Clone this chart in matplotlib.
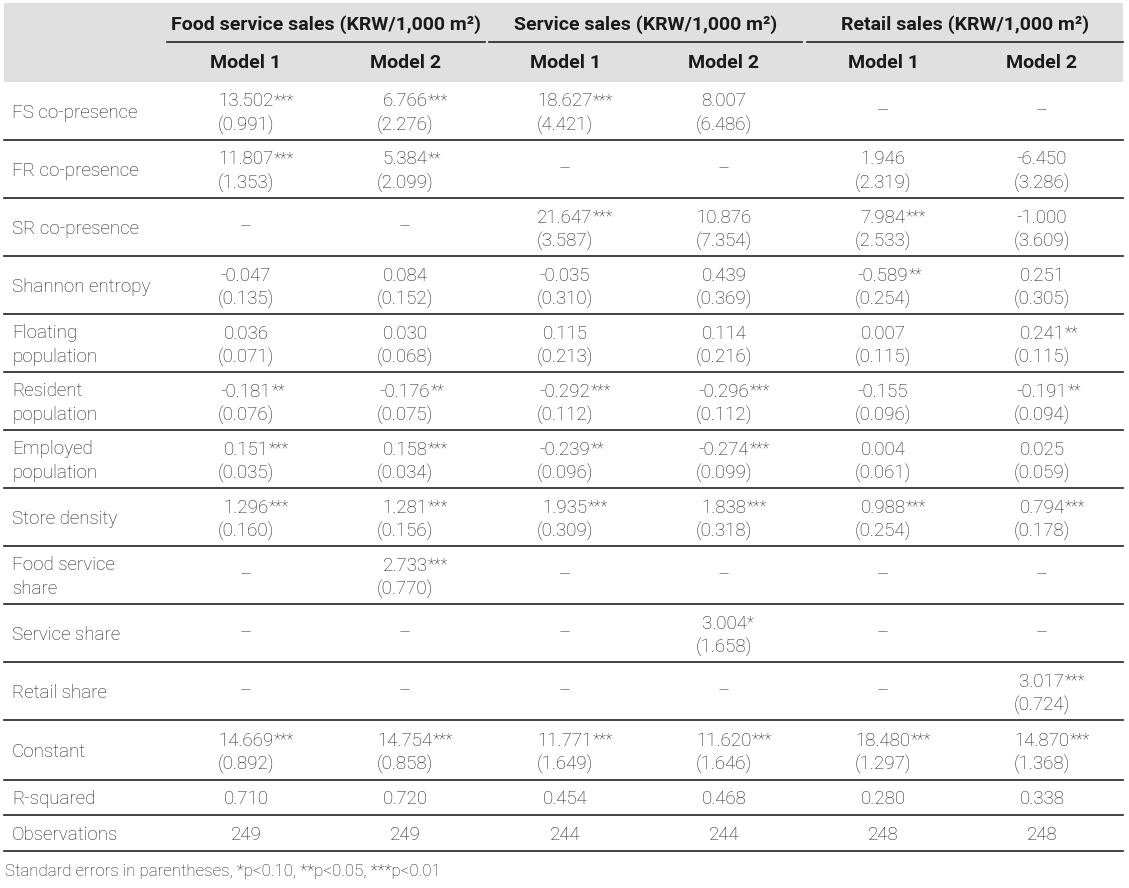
import matplotlib
matplotlib.use('Agg')
import matplotlib.pyplot as plt
from matplotlib.patches import Rectangle

plt.rcParams['font.family'] = ['Roboto', 'DejaVu Sans']

# table content
group_titles = ['Food service sales (KRW/1,000 m²)',
                'Service sales (KRW/1,000 m²)',
                'Retail sales (KRW/1,000 m²)']
model_labels = ['Model 1', 'Model 2', 'Model 1', 'Model 2', 'Model 1', 'Model 2']

row_labels = ['FS co-presence', 'FR co-presence', 'SR co-presence', 'Shannon entropy',
              'Floating\npopulation', 'Resident\npopulation', 'Employed\npopulation',
              'Store density', 'Food service\nshare', 'Service share', 'Retail share',
              'Constant']

coef = [
    [13.502, 6.766, 18.627, 8.007, None, None],
    [11.807, 5.384, None, None, 1.946, -6.450],
    [None, None, 21.647, 10.876, 7.984, -1.000],
    [-0.047, 0.084, -0.035, 0.439, -0.589, 0.251],
    [0.036, 0.030, 0.115, 0.114, 0.007, 0.241],
    [-0.181, -0.176, -0.292, -0.296, -0.155, -0.191],
    [0.151, 0.158, -0.239, -0.274, 0.004, 0.025],
    [1.296, 1.281, 1.935, 1.838, 0.988, 0.794],
    [None, 2.733, None, None, None, None],
    [None, None, None, 3.004, None, None],
    [None, None, None, None, None, 3.017],
    [14.669, 14.754, 11.771, 11.620, 18.480, 14.870],
]
se = [
    [0.991, 2.276, 4.421, 6.486, None, None],
    [1.353, 2.099, None, None, 2.319, 3.286],
    [None, None, 3.587, 7.354, 2.533, 3.609],
    [0.135, 0.152, 0.310, 0.369, 0.254, 0.305],
    [0.071, 0.068, 0.213, 0.216, 0.115, 0.115],
    [0.076, 0.075, 0.112, 0.112, 0.096, 0.094],
    [0.035, 0.034, 0.096, 0.099, 0.061, 0.059],
    [0.160, 0.156, 0.309, 0.318, 0.254, 0.178],
    [None, 0.770, None, None, None, None],
    [None, None, None, 1.658, None, None],
    [None, None, None, None, None, 0.724],
    [0.892, 0.858, 1.649, 1.646, 1.297, 1.368],
]
stars = [
    ['***', '***', '***', '', '', ''],
    ['***', '**', '', '', '', ''],
    ['', '', '***', '', '***', ''],
    ['', '', '', '', '**', ''],
    ['', '', '', '', '', '**'],
    ['**', '**', '***', '***', '', '**'],
    ['***', '***', '**', '***', '', ''],
    ['***', '***', '***', '***', '***', '***'],
    ['', '***', '', '', '', ''],
    ['', '', '', '*', '', ''],
    ['', '', '', '', '', '***'],
    ['***', '***', '***', '***', '***', '***'],
]
r_squared = [0.710, 0.720, 0.454, 0.468, 0.280, 0.338]
observations = [249, 249, 244, 244, 248, 248]
footnote = 'Standard errors in parentheses, *p<0.10, **p<0.05, ***p<0.01'

# layout (pixels)
W, H = 1129, 888
left, right = 4, 1123
col_x = [246, 405, 565, 724, 883, 1042]
group_spans = [(167, 485), (489, 802), (807, 1123)]
header_top, header_line, header_bot = 3, 42, 82
row_h = [58] * 11 + [60, 35, 36]

txt = '#1f1f1f'
head = '#1a1a1a'
line_c = '#222222'
fs_body = 13.5
fs_head = 14

fig = plt.figure(figsize=(W / 100, H / 100), dpi=100)
ax = fig.add_axes([0, 0, 1, 1])
ax.set_xlim(0, W)
ax.set_ylim(H, 0)
ax.axis('off')

ax.add_patch(Rectangle((left, header_top), right - left, header_bot - header_top,
                       color='#e0e0e0', lw=0))
for (a, b), title in zip(group_spans, group_titles):
    ax.text((a + b) / 2, 30, title, ha='center', va='baseline', fontsize=fs_head,
            fontweight='bold', color=head)
    ax.plot([a, b], [header_line, header_line], color=line_c, lw=1.2)
for x, m in zip(col_x, model_labels):
    ax.text(x, 68, m, ha='center', va='baseline', fontsize=fs_head,
            fontweight='bold', color=head)

fig.canvas.draw()
renderer = fig.canvas.get_renderer()
inv = ax.transData.inverted()


def body(x, y, s, ha='center'):
    return ax.text(x, y, s, ha=ha, va='baseline', fontsize=fs_body,
                   fontweight='light', color=txt)


def add_stars(t, y, st):
    if not st:
        return
    bb = t.get_window_extent(renderer)
    xr = inv.transform((bb.x1, bb.y0))[0]
    ax.text(xr + 0.5, y - 1.5, st, ha='left', va='baseline', fontsize=11.5,
            fontweight='light', color=txt)


y0 = header_bot
for i, h in enumerate(row_h):
    y1 = y0 + h
    yc = (y0 + y1) / 2
    if i < len(row_labels):
        parts = row_labels[i].split('\n')
        if len(parts) == 1:
            body(12, yc + 6.5, parts[0], ha='left')
        else:
            body(12, yc - 5, parts[0], ha='left')
            body(12, yc + 18.5, parts[1], ha='left')
        for j, x in enumerate(col_x):
            c = coef[i][j]
            if c is None:
                body(x, yc + 5, '–')
                continue
            t = body(x, yc - 4.5, f'{c:.3f}')
            add_stars(t, yc - 4.5, stars[i][j])
            body(x, yc + 19.5, f'({se[i][j]:.3f})')
    elif i == len(row_labels):
        body(12, yc + 6.5, 'R-squared', ha='left')
        for x, v in zip(col_x, r_squared):
            body(x, yc + 6.5, f'{v:.3f}')
    else:
        body(12, yc + 6.5, 'Observations', ha='left')
        for x, v in zip(col_x, observations):
            body(x, yc + 6.5, str(v))
    ax.plot([left, right], [y1, y1], color=line_c, lw=1.2)
    y0 = y1

ax.text(left + 1, 876, footnote, ha='left', va='baseline', fontsize=12.2,
        fontweight='light', color=txt)

fig.savefig('out.png', dpi=100)
